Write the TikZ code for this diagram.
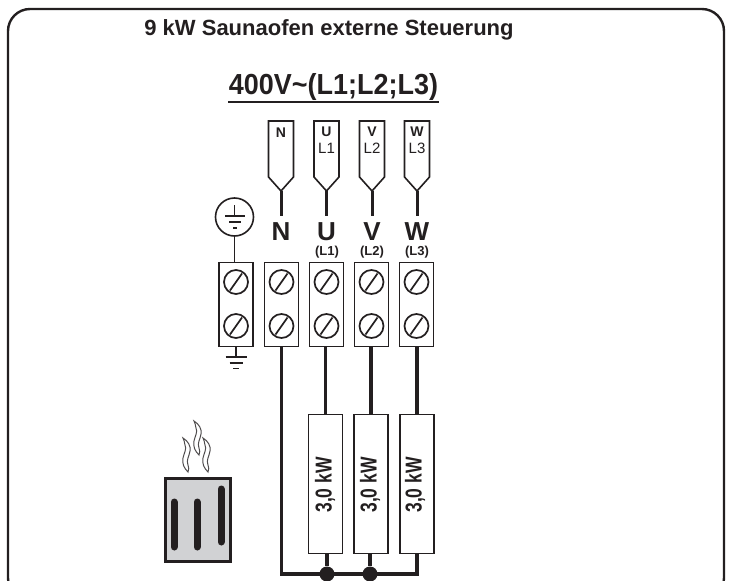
\documentclass[tikz,border=0pt]{standalone}
\usepackage{fontspec}
\setmainfont{Liberation Sans}
\usetikzlibrary{positioning}
\definecolor{ink}{HTML}{231F20}
\definecolor{ovengray}{HTML}{D1D2D4}
\newcommand{\fsize}[1]{\fontsize{#1}{#1}\selectfont}
\tikzset{
  terminal/.style={draw=ink,line width=1.9pt,minimum width=34pt,minimum height=84pt,inner sep=0pt},
  screw/.style={draw=ink,circle,line width=1.7pt,minimum size=24pt,inner sep=0pt,
    path picture={\draw[ink,line width=1.7pt] ([xshift=6pt,yshift=3.5pt]path picture bounding box.south west) -- ++(12pt,17pt);}},
  plug/.style={draw=ink,line width=1.6pt,line join=miter,fill=white},
  heater/.style={draw=ink,line width=1.9pt,minimum width=34pt,minimum height=139pt,inner sep=0pt},
  wire/.style={ink,line width=3.4pt},
  thinwire/.style={ink,line width=1.6pt},
  busdot/.style={circle,fill=ink,minimum size=15pt,inner sep=0pt},
  biglabel/.style={inner sep=0pt,text=ink,font=\fsize{26}\bfseries},
  smalllabel/.style={inner sep=0pt,text=ink,font=\fsize{13}\bfseries},
  plugtop/.style={inner sep=0pt,text=ink,font=\fsize{14}\bfseries},
  plugbottom/.style={inner sep=0pt,text=ink,font=\fsize{15}},
  powerlabel/.style={inner sep=0pt,text=ink,rotate=90,xscale=.76,font=\fsize{23}\bfseries},
  bar/.style={ink,line width=7pt,line cap=round},
  steam/.style={draw=ink!80,line width=1pt,fill=white}
}
\begin{document}
\begin{tikzpicture}[x=1pt,y=-1pt]
\useasboundingbox (0,0) rectangle (729,581);
\clip (0,0) rectangle (729,581);
%outside boundary
\draw[ink,line width=2.4pt,rounded corners=22pt] (8,9) rectangle (724,600);
%headings
\node[inner sep=0pt,text=ink,font=\fsize{22}\bfseries] (title) at (329,30) {9 kW Saunaofen externe Steuerung};
\node[inner sep=0pt,text=ink,xscale=.93,font=\fsize{29}\bfseries] (supply) at (333.5,87) {400V\char`~(L1;L2;L3)};
\coordinate (ulL) at (228,102); \coordinate (ulR) at (439,102); \draw[ink,line width=1.8pt] (ulL) -- (ulR);
%terminal blocks and their screws
\foreach \name/\x in {E/236,N/281.5,U/326.5,V/371.5,W/416.5} {
  \node[terminal] (term\name) at (\x,304.5) {};
  \node[screw] (screw\name a) at (\x,282) {};
  \node[screw] (screw\name b) at (\x,326) {};
}
%plugs with their wires and letters
\foreach \name/\x in {N/281,U/326.5,V/372,W/417} {
  \draw[plug] (\x-12.5,121) -- (\x+12.5,121) -- (\x+12.5,177) -- (\x,191) -- (\x-12.5,177) -- cycle;
  \coordinate (tip\name) at (\x,191);
  \node[biglabel,anchor=center] (big\name) at (\x,232) {\name};
  \draw[wire,line width=3pt] (tip\name) -- ([yshift=7pt]big\name.north);
}
\node[plugtop] (plugN) at (281,133) {N};
\node[plugtop] (plugU) at (326.5,132) {U}; \node[plugbottom] (plugL1) at (326.5,148) {L1};
\node[plugtop] (plugV) at (372,132) {V}; \node[plugbottom] (plugL2) at (372,148) {L2};
\node[plugtop] (plugW) at (417,132) {W}; \node[plugbottom] (plugL3) at (417,148) {L3};
\node[smalllabel] (phaseU) at (327,252) {(L1)};
\node[smalllabel] (phaseV) at (372,252) {(L2)};
\node[smalllabel] (phaseW) at (417,252) {(L3)};
%earth symbol in circle
\node[draw=ink,circle,line width=1.6pt,minimum size=38pt,inner sep=0pt] (earth) at (234.5,217) {};
\draw[thinwire] (earth.south) -- (earth.south |- termE.north);
\draw[thinwire] (234.5,205) -- (234.5,216) (225,216) -- (245,216);
\draw[thinwire] (229,222) -- (241,222) (233,228) -- (237,228);
%earth symbol under the block
\coordinate (gnd) at (236,357);
\draw[thinwire] (termE.south) -- (gnd) (225.5,357) -- (246.5,357);
\draw[thinwire] (229.5,363) -- (242.5,363) (233,368.5) -- (239,368.5);
%heating elements
\node[heater] (heatU) at (325.5,484) {}; \node[powerlabel] (powerU) at (325,485) {3,0 kW};
\node[heater] (heatV) at (371,484) {}; \node[powerlabel] (powerV) at (370,485) {3,0 kW};
\node[heater] (heatW) at (417,484) {}; \node[powerlabel] (powerW) at (415,485) {3,0 kW};
\draw[wire] (heatU.north) -- (heatU.north |- termU.south);
\draw[wire] (heatV.north) -- (heatV.north |- termV.south);
\draw[wire] (heatW.north) -- (heatW.north |- termW.south);
%common return
\node[busdot] (dotU) at (327,574) {}; \node[busdot] (dotV) at (370,574) {};
\coordinate (busW) at (417,574);
\draw[wire] (termN.south) |- (busW) -- (heatW.south);
\draw[wire] (dotU) -- (dotU |- heatU.south);
\draw[wire] (dotV) -- (dotV |- heatV.south);
%oven with steam
\draw[ink,fill=ovengray,line width=3pt] (165,478.5) rectangle (230,561);
\draw[bar] (174,502) -- (174,547); \draw[bar] (197,502) -- (197,547); \draw[bar] (221,489) -- (221,542);
\foreach \sx/\sy in {183/438,194/421,203/438} {
  \begin{scope}[shift={(\sx,\sy)}]
    \draw[steam] (0,0) .. controls (5,3) and (8,8) .. (7,13) .. controls (6,19) and (3,22) .. (5,27)
      .. controls (6,29) and (6,32) .. (5,34) .. controls (1,30) and (-1,26) .. (0,20)
      .. controls (1,15) and (4,11) .. (2,7) .. controls (1.5,4) and (1,2) .. (0,0) -- cycle;
  \end{scope}
}
\end{tikzpicture}
\end{document}
